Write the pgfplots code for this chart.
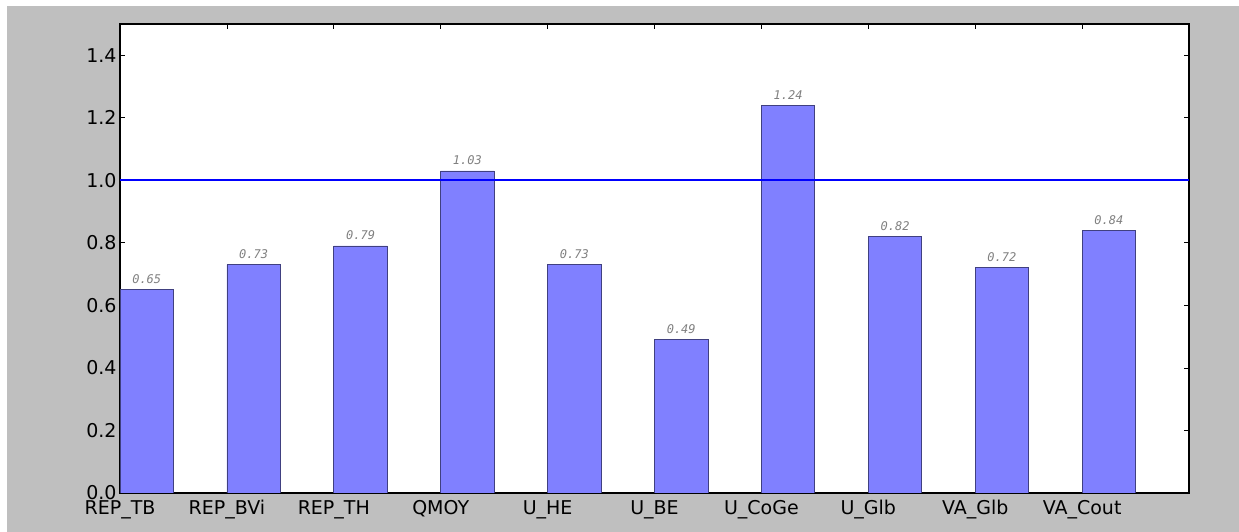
\documentclass[border=0pt]{standalone}
\usepackage{fontspec}
\setmainfont{DejaVu Sans}
\setmonofont{DejaVu Sans Mono}
\usepackage{pgfplots}
\pgfplotsset{compat=1.18}
\definecolor{figgray}{HTML}{BFBFBF}
\definecolor{barfill}{HTML}{8080FF}
\definecolor{baredge}{HTML}{404080}
\definecolor{valgray}{HTML}{808080}
\begin{document}
\begin{tikzpicture}
\useasboundingbox (0pt,0pt) rectangle (1239pt,532pt);
\fill[white] (0pt,0pt) rectangle (1239pt,532pt);
\fill[figgray] (7pt,0pt) rectangle (1239pt,526pt);
\begin{axis}[
  at={(120pt,39pt)}, anchor=south west,
  scale only axis, width=1069pt, height=469pt,
  xmin=0, xmax=10, ymin=0, ymax=1.5,
  axis background/.style={fill=white},
  axis line style={black, line width=1.5pt},
  tick align=inside,
  major tick length=5pt,
  tick style={black, line width=0.8pt},
  xtick={0,1,2,3,4,5,6,7,8,9},
  xticklabels={REP\_TB,REP\_BVi,REP\_TH,QMOY,U\_HE,U\_BE,U\_CoGe,U\_Glb,VA\_Glb,VA\_Cout},
  ytick={0,0.2,0.4,0.6,0.8,1.0,1.2,1.4},
  yticklabel style={/pgf/number format/fixed, /pgf/number format/precision=1, /pgf/number format/fixed zerofill},
  xticklabel style={yshift=-4pt},
  tick label style={font=\fontsize{19}{21}\selectfont},
  /pgf/number format/assume math mode=true,
]
\addplot[ybar, bar width=0.5, bar shift=0pt, fill=barfill, draw=baredge, line width=0.8pt,
  nodes near coords,
  nodes near coords style={font=\ttfamily\itshape\fontsize{12}{14}\selectfont, text=valgray,
    /pgf/number format/fixed, /pgf/number format/precision=2, /pgf/number format/fixed zerofill,
    /pgf/number format/assume math mode=true, anchor=south, inner sep=0pt, yshift=5.5pt}]
coordinates {(0.25,0.65) (1.25,0.73) (2.25,0.79) (3.25,1.03) (4.25,0.73) (5.25,0.49) (6.25,1.24) (7.25,0.82) (8.25,0.72) (9.25,0.84)};
\addplot[color={rgb,255:red,0;green,0;blue,255}, line width=2pt, forget plot] coordinates {(0,1) (10,1)};
\end{axis}
\end{tikzpicture}
\end{document}
